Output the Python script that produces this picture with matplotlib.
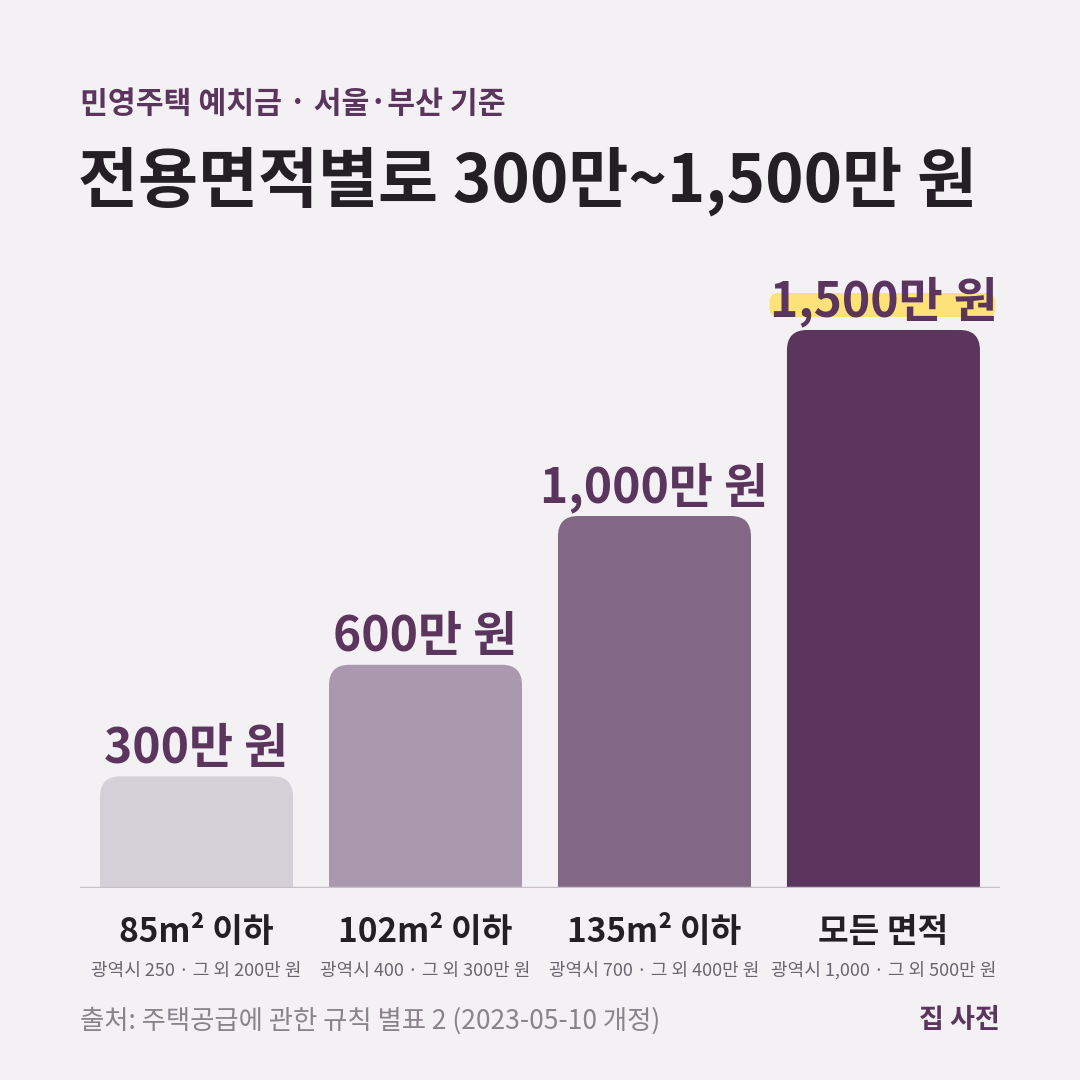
import matplotlib
matplotlib.use("Agg")
import matplotlib.pyplot as plt
from matplotlib.patches import FancyBboxPatch

plt.rcParams['font.family'] = ['Noto Sans CJK KR', 'DejaVu Sans']

# data
categories = ["85m² 이하", "102m² 이하", "135m² 이하", "모든 면적"]
sub_labels = ["광역시 250 · 그 외 200만 원", "광역시 400 · 그 외 300만 원",
              "광역시 700 · 그 외 400만 원", "광역시 1,000 · 그 외 500만 원"]
deposits = [300, 600, 1000, 1500]   # 만 원
value_labels = ["300만 원", "600만 원", "1,000만 원", "1,500만 원"]
bar_colors = ["#d5cfd7", "#aa98ae", "#826884", "#5b355e"]

title = "전용면적별로 300만~1,500만 원"
subtitle = "민영주택 예치금 · 서울·부산 기준"
source = "출처: 주택공급에 관한 규칙 별표 2 (2023-05-10 개정)"
brand = "집 사전"

BG = "#f4f1f5"
PURPLE = "#5b355e"
DARK = "#231f24"

fig = plt.figure(figsize=(10.8, 10.8), dpi=100, facecolor=BG)
W = H = 1080.0

# axes spans x 80..1000 px, baseline at y=888 px
ax = fig.add_axes([80 / W, (H - 888) / H, 920 / W, (888 - 250) / H])
ax.set_facecolor(BG)
ax.set_xlim(-0.509, 3.509)
ax.set_ylim(0, 1715)
for s in ax.spines.values():
    s.set_visible(False)
ax.set_yticks([])

bars = ax.bar(range(len(deposits)), deposits, width=0.843, color=bar_colors)

# swap in rounded-top bars
for rect, c in zip(bars, bar_colors):
    rect.set_visible(False)
    x, w, h = rect.get_x(), rect.get_width(), rect.get_height()
    p = FancyBboxPatch((x, -200), w, h + 200,
                       boxstyle="round,pad=0,rounding_size=0.088",
                       mutation_aspect=620, fc=c, ec="none")
    ax.add_patch(p)

ax.axhline(0, color="#c9c1ca", lw=2.5, zorder=5)

# value labels
val_texts = []
for i, (v, lab) in enumerate(zip(deposits, value_labels)):
    t = ax.annotate(lab, (i, v), xytext=(0, 10), textcoords="offset points",
                    ha="center", va="baseline", fontsize=34.5, fontweight="bold",
                    color=PURPLE, zorder=6)
    val_texts.append(t)

# category labels
ax.set_xticks(range(len(categories)))
ax.set_xticklabels(categories, fontsize=24, fontweight="bold", color=DARK)
ax.tick_params(axis="x", length=0, pad=20)
for i, s in enumerate(sub_labels):
    ax.annotate(s, (i, 0), xycoords=("data", "axes fraction"),
                xytext=(0, -53), textcoords="offset points",
                ha="center", va="top", fontsize=13, color="#6b6570")

# header
fig.text(80 / W, 1 - 104 / H, subtitle, fontsize=21.8, fontweight="bold",
         color=PURPLE, va="center", ha="left")
fig.text(78 / W, 1 - 181 / H, title, fontsize=47, fontweight="bold",
         color=DARK, va="center", ha="left")

# footer
fig.text(80 / W, 1 - 1021 / H, source, fontsize=19, color="#8a838c",
         va="center", ha="left")
fig.text(1000 / W, 1 - 1020 / H, brand, fontsize=19.5, fontweight="bold",
         color=PURPLE, va="center", ha="right")

# yellow highlight under the biggest value
fig.canvas.draw()
bb = val_texts[-1].get_window_extent()
hx0, hx1 = bb.x0 + 0, bb.x1 - 2
hy0, hy1 = H - 317, H - 293
hl = FancyBboxPatch((hx0 / W, hy0 / H), (hx1 - hx0) / W, (hy1 - hy0) / H,
                    boxstyle="round,pad=0,rounding_size=0.008",
                    transform=fig.transFigure, fc="#fde27a", ec="none",
                    zorder=1)
fig.patches.append(hl)
val_texts[-1].set_zorder(10)
ax.set_zorder(2)
ax.patch.set_alpha(0)

fig.savefig("out.png", dpi=100, facecolor=BG)
